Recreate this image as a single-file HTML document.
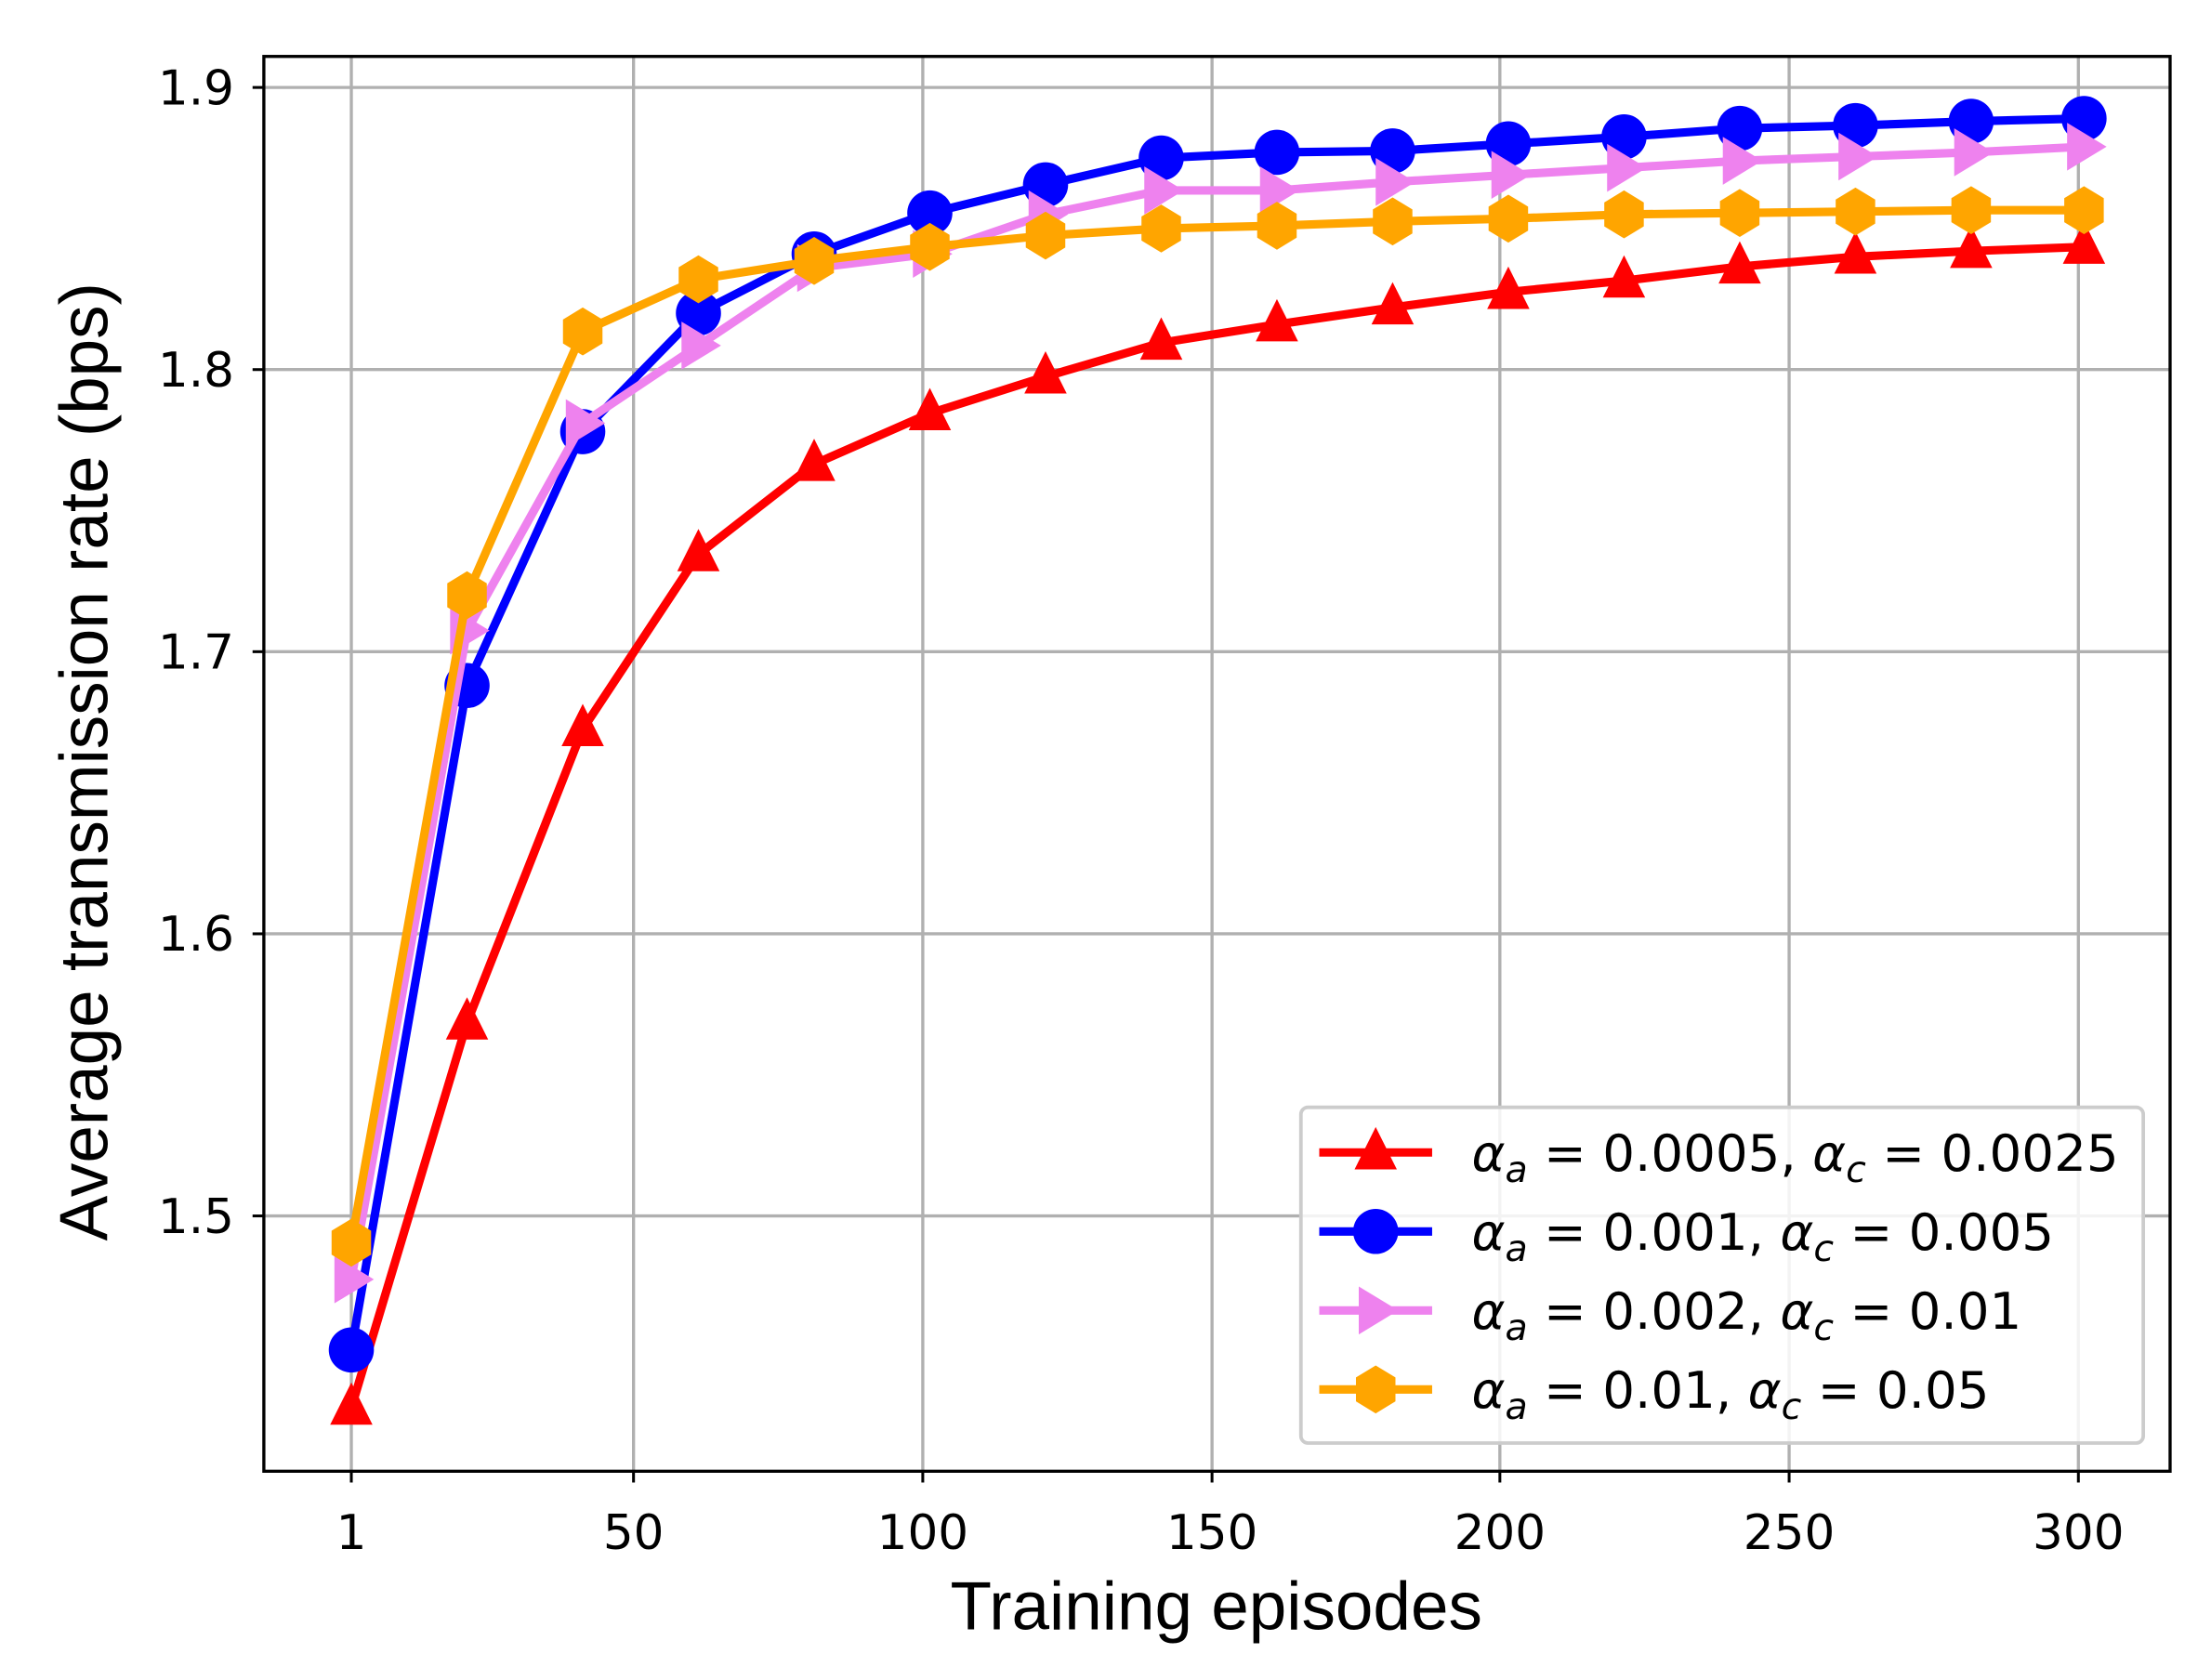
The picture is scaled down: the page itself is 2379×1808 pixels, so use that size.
<!DOCTYPE html>
<html><head><meta charset="utf-8"><style>html,body{margin:0;padding:0;background:#fff}svg{display:block}</style></head>
<body>
<svg width="2379" height="1808" viewBox="0 0 1567 1191" preserveAspectRatio="none" xmlns="http://www.w3.org/2000/svg" font-family="'Liberation Sans', 'DejaVu Sans', sans-serif">
<defs>
<path id="tri" d="M0,-18 L15,12 L-15,12 Z"/>
<path id="rtri" d="M-12,-17 L16,0 L-12,17 Z"/>
<path id="hex" d="M0,-17 L14,-8.5 L14,8.5 L0,17 L-14,8.5 L-14,-8.5 Z"/>
</defs>
<rect width="1567" height="1191" fill="#fff"/>
<g stroke="#b0b0b0" stroke-width="2.2">
<line x1="249" y1="40" x2="249" y2="1043"/><line x1="449" y1="40" x2="449" y2="1043"/><line x1="654" y1="40" x2="654" y2="1043"/><line x1="859" y1="40" x2="859" y2="1043"/><line x1="1063" y1="40" x2="1063" y2="1043"/><line x1="1268" y1="40" x2="1268" y2="1043"/><line x1="1473" y1="40" x2="1473" y2="1043"/>
<line x1="187" y1="62" x2="1538" y2="62"/><line x1="187" y1="262" x2="1538" y2="262"/><line x1="187" y1="462" x2="1538" y2="462"/><line x1="187" y1="662" x2="1538" y2="662"/><line x1="187" y1="862" x2="1538" y2="862"/>
</g>
<g stroke="#000" stroke-width="2">
<line x1="249" y1="1043" x2="249" y2="1051"/><line x1="449" y1="1043" x2="449" y2="1051"/><line x1="654" y1="1043" x2="654" y2="1051"/><line x1="859" y1="1043" x2="859" y2="1051"/><line x1="1063" y1="1043" x2="1063" y2="1051"/><line x1="1268" y1="1043" x2="1268" y2="1051"/><line x1="1473" y1="1043" x2="1473" y2="1051"/>
<line x1="179" y1="62" x2="187" y2="62"/><line x1="179" y1="262" x2="187" y2="262"/><line x1="179" y1="462" x2="187" y2="462"/><line x1="179" y1="662" x2="187" y2="662"/><line x1="179" y1="862" x2="187" y2="862"/>
</g>
<g font-size="34" fill="#000" text-anchor="middle" font-family="'DejaVu Sans', sans-serif">
<text x="249" y="1098">1</text><text x="449" y="1098">50</text><text x="654" y="1098">100</text><text x="859" y="1098">150</text><text x="1063" y="1098">200</text><text x="1268" y="1098">250</text><text x="1473" y="1098">300</text>
</g>
<g font-size="34" fill="#000" text-anchor="end" font-family="'DejaVu Sans', sans-serif">
<text x="166" y="74">1.9</text><text x="166" y="274">1.8</text><text x="166" y="474">1.7</text><text x="166" y="674">1.6</text><text x="166" y="874">1.5</text>
</g>
<text x="862" y="1155" font-size="48" text-anchor="middle">Training episodes</text>
<text transform="translate(76,540) rotate(-90)" font-size="48" text-anchor="middle">Average transmission rate (bps)</text>

<polyline fill="none" stroke="#ff0000" stroke-width="6" stroke-linejoin="round" points="249,998 331,725 413,517 495,393 577,329 659,293 741,267 823,243 905,230 987,218 1069,207 1151,199 1233,189 1315,182 1397,178 1477,175"/>
<g fill="#ff0000"><use href="#tri" x="249" y="998"/><use href="#tri" x="331" y="725"/><use href="#tri" x="413" y="517"/><use href="#tri" x="495" y="393"/><use href="#tri" x="577" y="329"/><use href="#tri" x="659" y="293"/><use href="#tri" x="741" y="267"/><use href="#tri" x="823" y="243"/><use href="#tri" x="905" y="230"/><use href="#tri" x="987" y="218"/><use href="#tri" x="1069" y="207"/><use href="#tri" x="1151" y="199"/><use href="#tri" x="1233" y="189"/><use href="#tri" x="1315" y="182"/><use href="#tri" x="1397" y="178"/><use href="#tri" x="1477" y="175"/></g>
<polyline fill="none" stroke="#0000ff" stroke-width="6" stroke-linejoin="round" points="249,957 331,486 413,306 495,222 577,180 659,151 741,131 823,112 905,108 987,107 1069,102 1151,97 1233,91 1315,89 1397,86 1477,84"/>
<g fill="#0000ff"><circle cx="249" cy="957" r="16"/><circle cx="331" cy="486" r="16"/><circle cx="413" cy="306" r="16"/><circle cx="495" cy="222" r="16"/><circle cx="577" cy="180" r="16"/><circle cx="659" cy="151" r="16"/><circle cx="741" cy="131" r="16"/><circle cx="823" cy="112" r="16"/><circle cx="905" cy="108" r="16"/><circle cx="987" cy="107" r="16"/><circle cx="1069" cy="102" r="16"/><circle cx="1151" cy="97" r="16"/><circle cx="1233" cy="91" r="16"/><circle cx="1315" cy="89" r="16"/><circle cx="1397" cy="86" r="16"/><circle cx="1477" cy="84" r="16"/></g>
<polyline fill="none" stroke="#ee82ee" stroke-width="6" stroke-linejoin="round" points="249,907 331,447 413,300 495,245 577,190 659,180 741,152 823,135 905,135 987,129 1069,124 1151,119 1233,114 1315,111 1397,108 1477,104"/>
<g fill="#ee82ee"><use href="#rtri" x="249" y="907"/><use href="#rtri" x="331" y="447"/><use href="#rtri" x="413" y="300"/><use href="#rtri" x="495" y="245"/><use href="#rtri" x="577" y="190"/><use href="#rtri" x="659" y="180"/><use href="#rtri" x="741" y="152"/><use href="#rtri" x="823" y="135"/><use href="#rtri" x="905" y="135"/><use href="#rtri" x="987" y="129"/><use href="#rtri" x="1069" y="124"/><use href="#rtri" x="1151" y="119"/><use href="#rtri" x="1233" y="114"/><use href="#rtri" x="1315" y="111"/><use href="#rtri" x="1397" y="108"/><use href="#rtri" x="1477" y="104"/></g>
<polyline fill="none" stroke="#ffa500" stroke-width="6" stroke-linejoin="round" points="249,881 331,422 413,235 495,198 577,185 659,175 741,167 823,162 905,160 987,157 1069,155 1151,152 1233,151 1315,150 1397,149 1477,149"/>
<g fill="#ffa500"><use href="#hex" x="249" y="881"/><use href="#hex" x="331" y="422"/><use href="#hex" x="413" y="235"/><use href="#hex" x="495" y="198"/><use href="#hex" x="577" y="185"/><use href="#hex" x="659" y="175"/><use href="#hex" x="741" y="167"/><use href="#hex" x="823" y="162"/><use href="#hex" x="905" y="160"/><use href="#hex" x="987" y="157"/><use href="#hex" x="1069" y="155"/><use href="#hex" x="1151" y="152"/><use href="#hex" x="1233" y="151"/><use href="#hex" x="1315" y="150"/><use href="#hex" x="1397" y="149"/><use href="#hex" x="1477" y="149"/></g>

<rect x="187" y="40" width="1351" height="1003" fill="none" stroke="#000" stroke-width="2.2"/>

<rect x="922" y="785" width="597" height="238" rx="5" fill="#fff" fill-opacity="0.85" stroke="#cccccc" stroke-width="2.5"/>
<g stroke-width="6">
<line x1="935" y1="817" x2="1015" y2="817" stroke="#ff0000"/><use href="#tri" x="975" y="817" fill="#ff0000"/>
<line x1="935" y1="873" x2="1015" y2="873" stroke="#0000ff"/><circle cx="975" cy="873" r="16" fill="#0000ff"/>
<line x1="935" y1="929" x2="1015" y2="929" stroke="#ee82ee"/><use href="#rtri" x="975" y="929" fill="#ee82ee"/>
<line x1="935" y1="985" x2="1015" y2="985" stroke="#ffa500"/><use href="#hex" x="975" y="985" fill="#ffa500"/>
</g>
<g font-size="36" fill="#000" font-family="'DejaVu Sans', sans-serif">
<text x="1043" y="830"><tspan font-style="italic">α</tspan><tspan font-style="italic" font-size="26" dy="8">a</tspan><tspan dy="-8"> = 0.0005, </tspan><tspan font-style="italic">α</tspan><tspan font-style="italic" font-size="26" dy="8">c</tspan><tspan dy="-8"> = 0.0025</tspan></text>
<text x="1043" y="886"><tspan font-style="italic">α</tspan><tspan font-style="italic" font-size="26" dy="8">a</tspan><tspan dy="-8"> = 0.001, </tspan><tspan font-style="italic">α</tspan><tspan font-style="italic" font-size="26" dy="8">c</tspan><tspan dy="-8"> = 0.005</tspan></text>
<text x="1043" y="942"><tspan font-style="italic">α</tspan><tspan font-style="italic" font-size="26" dy="8">a</tspan><tspan dy="-8"> = 0.002, </tspan><tspan font-style="italic">α</tspan><tspan font-style="italic" font-size="26" dy="8">c</tspan><tspan dy="-8"> = 0.01</tspan></text>
<text x="1043" y="998"><tspan font-style="italic">α</tspan><tspan font-style="italic" font-size="26" dy="8">a</tspan><tspan dy="-8"> = 0.01, </tspan><tspan font-style="italic">α</tspan><tspan font-style="italic" font-size="26" dy="8">c</tspan><tspan dy="-8"> = 0.05</tspan></text>
</g>
</svg>
</body></html>
